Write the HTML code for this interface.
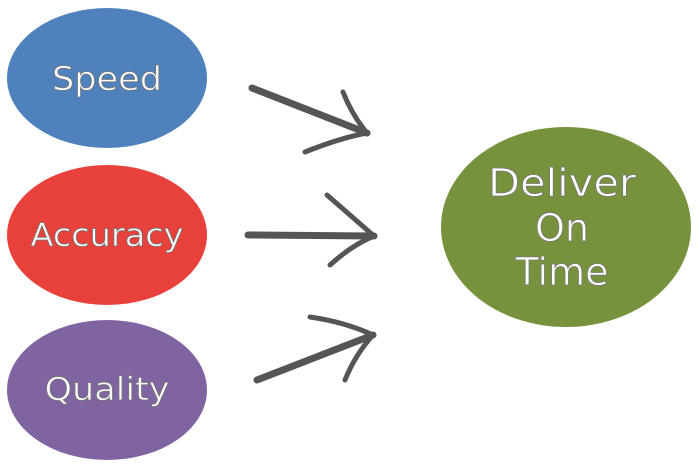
<!DOCTYPE html>
<html><head><style>
body{margin:0;background:#fff;}
svg{display:block}
text{font-family:"DejaVu Sans","Liberation Sans",sans-serif;fill:#fff;stroke:#777;stroke-width:0.8;text-anchor:middle;}
</style></head><body>
<svg width="700" height="476" viewBox="0 0 700 476">
<ellipse cx="107" cy="78" rx="100" ry="70" fill="#4f81bd"/>
<ellipse cx="107" cy="235" rx="100" ry="70" fill="#e8403a"/>
<ellipse cx="107" cy="390" rx="100" ry="70" fill="#8064a2"/>
<ellipse cx="566" cy="227" rx="125" ry="100" fill="#76923c"/>
<text x="107" y="90" font-size="33" textLength="110" lengthAdjust="spacingAndGlyphs">Speed</text>
<text x="107" y="246" font-size="32" textLength="153" lengthAdjust="spacingAndGlyphs">Accuracy</text>
<text x="107" y="400" font-size="32" textLength="125" lengthAdjust="spacingAndGlyphs">Quality</text>
<text x="562" y="196" font-size="38" textLength="148" lengthAdjust="spacingAndGlyphs">Deliver</text>
<text x="562" y="241" font-size="38">On</text>
<text x="562" y="285" font-size="38">Time</text>
<g stroke="#555" fill="none" stroke-linecap="round">
<path d="M252 88 L367 133" stroke-width="7"/>
<path d="M343 92 Q352 115 367 133" stroke-width="5"/>
<path d="M305 152 Q340 138 367 133" stroke-width="5"/>
<path d="M248 235 L374 236" stroke-width="7"/>
<path d="M327 195 Q350 215 374 236" stroke-width="5"/>
<path d="M330 265 Q352 245 374 236" stroke-width="5"/>
<path d="M257 380 L373 335" stroke-width="7"/>
<path d="M310 317 Q345 322 373 335" stroke-width="5"/>
<path d="M345 380 Q355 355 373 335" stroke-width="5"/>
</g>
</svg>
</body></html>
